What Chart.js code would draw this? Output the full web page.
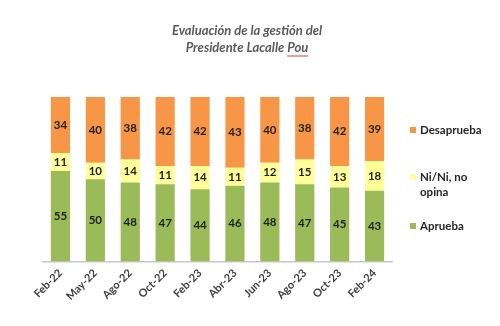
<!DOCTYPE html>
<html>
<head>
<meta charset="utf-8">
<script src="https://cdn.jsdelivr.net/npm/chart.js@4/dist/chart.umd.min.js"></script>
<style>
  html, body { margin: 0; padding: 0; background: #fff; }
  #wrap { width: 500px; height: 326px; }
</style>
</head>
<body>
<div id="wrap"><canvas id="myChart" width="500" height="326"></canvas></div>
<script>
var periodos = ["Feb-22", "May-22", "Ago-22", "Oct-22", "Feb-23", "Abr-23", "Jun-23", "Ago-23", "Oct-23", "Feb-24"];
var aprueba = [55, 50, 48, 47, 44, 46, 48, 47, 45, 43];
var ninguno = [11, 10, 14, 11, 14, 11, 12, 15, 13, 18];
var desaprueba = [34, 40, 38, 42, 42, 43, 40, 38, 42, 39];

var FUENTE = "Lato, 'Open Sans', sans-serif";

// titulo, leyenda y etiquetas de valor dibujadas a mano
var extras = {
    id: "extras",
    afterDatasetsDraw: function(chart) {
        var ctx = chart.ctx;
        ctx.save();

        // valores dentro de cada segmento
        ctx.font = "bold 11.5px " + FUENTE;
        ctx.fillStyle = "#1f1f1f";
        ctx.textAlign = "center";
        ctx.textBaseline = "middle";
        chart.data.datasets.forEach(function(ds, i) {
            chart.getDatasetMeta(i).data.forEach(function(bar, j) {
                var mid = (bar.y + bar.base) / 2;
                ctx.fillText(ds.data[j], bar.x, mid);
            });
        });

        // titulo
        ctx.font = "italic bold 13px " + FUENTE;
        ctx.fillStyle = "#595959";
        ctx.fillText("Evaluación de la gestión del", 247, 31);
        ctx.fillText("Presidente Lacalle Pou", 247, 48);
        var w = ctx.measureText("Presidente Lacalle Pou").width;
        var wPou = ctx.measureText("Pou").width;
        var x1 = 247 + w / 2 - wPou;
        ctx.strokeStyle = "#d04040";
        ctx.lineWidth = 1;
        ctx.beginPath();
        ctx.moveTo(x1, 56);
        ctx.lineTo(x1 + wPou, 56);
        ctx.stroke();

        // leyenda
        var items = [
            { color: "#F79646", lineas: ["Desaprueba"], y: 130 },
            { color: "#FFFF99", lineas: ["Ni/Ni, no", "opina"], y: 177 },
            { color: "#9BBB59", lineas: ["Aprueba"], y: 226 }
        ];
        ctx.font = "bold 11.5px " + FUENTE;
        ctx.textAlign = "left";
        items.forEach(function(it) {
            ctx.fillStyle = it.color;
            ctx.fillRect(410, it.y - 3, 6, 6);
            ctx.fillStyle = "#262626";
            it.lineas.forEach(function(l, k) {
                ctx.fillText(l, 420, it.y + k * 15);
            });
        });
        ctx.restore();
    }
};

var ctx = document.getElementById("myChart").getContext("2d");
var myChart = new Chart(ctx, {
    type: "bar",
    data: {
        labels: periodos,
        datasets: [
            { label: "Aprueba", data: aprueba, backgroundColor: "#9BBB59" },
            { label: "Ni/Ni, no opina", data: ninguno, backgroundColor: "#FFFF99" },
            { label: "Desaprueba", data: desaprueba, backgroundColor: "#F79646" }
        ]
    },
    options: {
        responsive: false,
        animation: false,
        devicePixelRatio: 1,
        layout: { padding: { left: 43, right: 108, top: 97, bottom: 18 } },
        datasets: { bar: { categoryPercentage: 1, barPercentage: 0.55 } },
        scales: {
            x: {
                stacked: true,
                grid: { display: false, drawTicks: false },
                border: { color: "#c8c8c8", width: 1.5 },
                ticks: {
                    minRotation: 45,
                    maxRotation: 45,
                    padding: 5,
                    color: "#404040",
                    font: { family: FUENTE, size: 11, weight: "bold" }
                }
            },
            y: {
                stacked: true,
                display: false,
                min: 0,
                max: 100
            }
        },
        plugins: {
            legend: { display: false },
            tooltip: { enabled: false }
        }
    },
    plugins: [extras]
});
</script>
</body>
</html>
